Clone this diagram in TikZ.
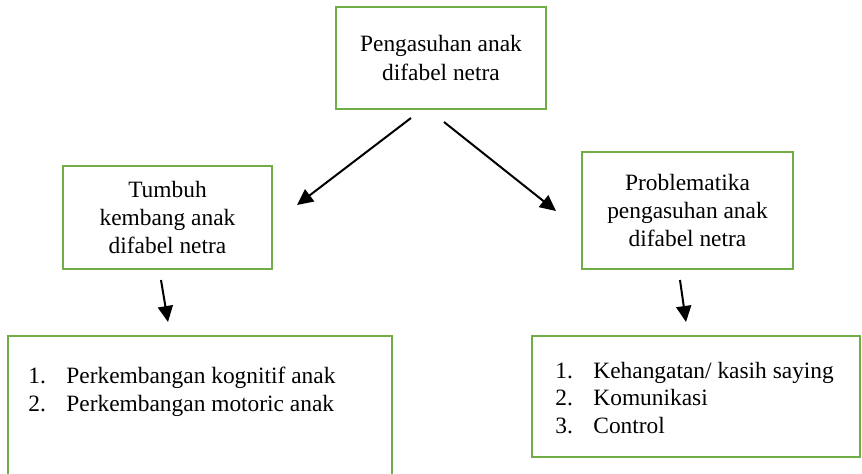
\documentclass[tikz,border=0pt]{standalone}
\usepackage{fontspec}
\setmainfont{Liberation Serif}
\usetikzlibrary{arrows.meta}
\usetikzlibrary{positioning}
\definecolor{gruen}{HTML}{70AD47}

\begin{document}
\begin{tikzpicture}[x=0.5pt, y=-0.5pt, % Skalierung: 1 Einheit = 1 Pixel der Vorlage
  kasten/.style={draw=gruen, line width=0.7pt, rectangle, inner sep=0pt, align=center, font=\fontsize{11.7}{14.2}\selectfont},
  liste/.style={anchor=base west, inner sep=0pt, font=\fontsize{11.7}{14.2}\selectfont},
  panah/.style={-{Triangle[length=8pt,width=7.5pt]}, line width=1pt}]

% Rahmen
\useasboundingbox (0,0) rectangle (862,473);
\clip (0,0) rectangle (862,473);

% Kaesten
\node[kasten, minimum width=105pt, minimum height=51pt] (asuh) at (441,58) {Pengasuhan anak\\difabel netra};
\node[kasten, minimum width=104.5pt, minimum height=51.5pt] (tumbuh) at (167.5,217.5) {Tumbuh\\kembang anak\\difabel netra};
\node[kasten, minimum width=105.5pt, minimum height=58.5pt] (problem) at (687.5,210.5) {Problematika\\pengasuhan anak\\difabel netra};
\node[kasten, minimum width=192pt, minimum height=72pt] (kembang) at (200,408) {}; % unten offen
\node[kasten, minimum width=164pt, minimum height=60.5pt] (masalah) at (696,396.5) {};

% Listen
\foreach \i/\teks in {1/{Perkembangan kognitif anak}, 2/{Perkembangan motoric anak}} {
  \node[liste] (nomorL\i) at (28,{355+28*\i}) {\i.};
  \node[liste] (teksL\i) at (66,{355+28*\i}) {\teks};
}
\foreach \i/\teks in {1/{Kehangatan/ kasih saying}, 2/{Komunikasi}, 3/{Control}} {
  \node[liste] (nomorR\i) at (555,{350.5+27.5*\i}) {\i.};
  \node[liste] (teksR\i) at (593,{350.5+27.5*\i}) {\teks};
}

% Pfeile
\coordinate (a1) at (411,118); \coordinate (a2) at (297,205);
\coordinate (b1) at (444,122); \coordinate (b2) at (556,211);
\coordinate (c1) at (161,280); \coordinate (c2) at (168,322);
\coordinate (d1) at (680,280); \coordinate (d2) at (686,322);
\draw[panah] (a1) -- (a2);
\draw[panah] (b1) -- (b2);
\draw[panah] (c1) -- (c2);
\draw[panah] (d1) -- (d2);

\end{tikzpicture}
\end{document}
